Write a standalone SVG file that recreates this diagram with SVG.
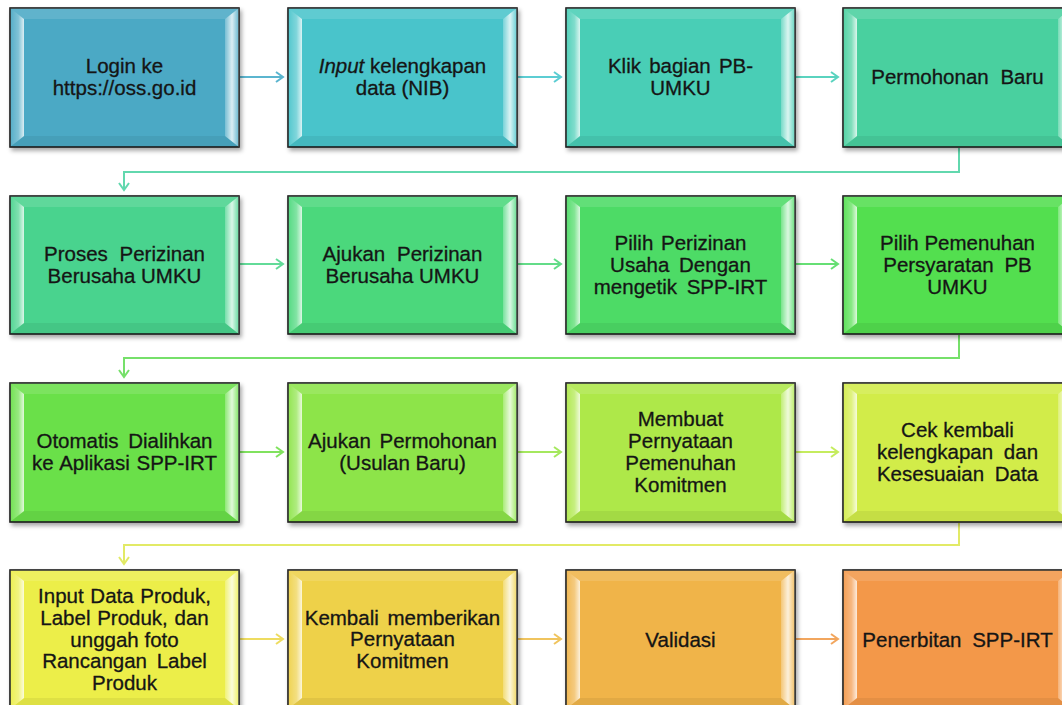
<svg xmlns="http://www.w3.org/2000/svg" width="1062" height="705" viewBox="0 0 1062 705">
<defs>
<style>
.box{stroke:#1c1c1c;stroke-width:1.6;filter:url(#sh)}
.bl{fill:url(#bevL)}
.br{fill:url(#bevR)}
.bt{fill:#ffffff;fill-opacity:0.12}
.bb{fill:#000000;fill-opacity:0.06}
.lbl{font-family:"Liberation Sans",Arial,sans-serif;font-size:20.5px;fill:#151515;stroke:#151515;stroke-width:0.3;text-anchor:middle}
.c{fill:none;stroke-width:2}
</style>
<filter id="sh" x="-10%" y="-10%" width="125%" height="130%">
<feDropShadow dx="2" dy="3" stdDeviation="2" flood-color="#000" flood-opacity="0.35"/>
</filter>
<linearGradient id="bevL" x1="0" y1="0" x2="1" y2="0">
<stop offset="0" stop-color="#fff" stop-opacity="0.05"/>
<stop offset="0.6" stop-color="#fff" stop-opacity="0.3"/>
<stop offset="1" stop-color="#fff" stop-opacity="0.8"/>
</linearGradient>
<linearGradient id="bevR" x1="0" y1="0" x2="1" y2="0">
<stop offset="0" stop-color="#fff" stop-opacity="0.25"/>
<stop offset="0.5" stop-color="#fff" stop-opacity="0.8"/>
<stop offset="1" stop-color="#fff" stop-opacity="0.15"/>
</linearGradient>
<marker id="m1" viewBox="0 0 10 12" refX="8" refY="6" markerWidth="10" markerHeight="12" markerUnits="userSpaceOnUse" orient="auto"><path d="M1,1 L8,6 L1,11" fill="none" stroke="#5BB5CF" stroke-width="2"/></marker>
<marker id="m2" viewBox="0 0 10 12" refX="8" refY="6" markerWidth="10" markerHeight="12" markerUnits="userSpaceOnUse" orient="auto"><path d="M1,1 L8,6 L1,11" fill="none" stroke="#5CCDD3" stroke-width="2"/></marker>
<marker id="m3" viewBox="0 0 10 12" refX="8" refY="6" markerWidth="10" markerHeight="12" markerUnits="userSpaceOnUse" orient="auto"><path d="M1,1 L8,6 L1,11" fill="none" stroke="#5AD3BF" stroke-width="2"/></marker>
<marker id="e1" viewBox="0 0 10 12" refX="8" refY="6" markerWidth="10" markerHeight="12" markerUnits="userSpaceOnUse" orient="auto"><path d="M1,1 L8,6 L1,11" fill="none" stroke="#62D8AE" stroke-width="2"/></marker>
<marker id="m4" viewBox="0 0 10 12" refX="8" refY="6" markerWidth="10" markerHeight="12" markerUnits="userSpaceOnUse" orient="auto"><path d="M1,1 L8,6 L1,11" fill="none" stroke="#62DB98" stroke-width="2"/></marker>
<marker id="m5" viewBox="0 0 10 12" refX="8" refY="6" markerWidth="10" markerHeight="12" markerUnits="userSpaceOnUse" orient="auto"><path d="M1,1 L8,6 L1,11" fill="none" stroke="#63DC88" stroke-width="2"/></marker>
<marker id="m6" viewBox="0 0 10 12" refX="8" refY="6" markerWidth="10" markerHeight="12" markerUnits="userSpaceOnUse" orient="auto"><path d="M1,1 L8,6 L1,11" fill="none" stroke="#66DF74" stroke-width="2"/></marker>
<marker id="e2" viewBox="0 0 10 12" refX="8" refY="6" markerWidth="10" markerHeight="12" markerUnits="userSpaceOnUse" orient="auto"><path d="M1,1 L8,6 L1,11" fill="none" stroke="#76E06A" stroke-width="2"/></marker>
<marker id="m7" viewBox="0 0 10 12" refX="8" refY="6" markerWidth="10" markerHeight="12" markerUnits="userSpaceOnUse" orient="auto"><path d="M1,1 L8,6 L1,11" fill="none" stroke="#80E25E" stroke-width="2"/></marker>
<marker id="m8" viewBox="0 0 10 12" refX="8" refY="6" markerWidth="10" markerHeight="12" markerUnits="userSpaceOnUse" orient="auto"><path d="M1,1 L8,6 L1,11" fill="none" stroke="#A5E85E" stroke-width="2"/></marker>
<marker id="m9" viewBox="0 0 10 12" refX="8" refY="6" markerWidth="10" markerHeight="12" markerUnits="userSpaceOnUse" orient="auto"><path d="M1,1 L8,6 L1,11" fill="none" stroke="#C5EC5E" stroke-width="2"/></marker>
<marker id="e3" viewBox="0 0 10 12" refX="8" refY="6" markerWidth="10" markerHeight="12" markerUnits="userSpaceOnUse" orient="auto"><path d="M1,1 L8,6 L1,11" fill="none" stroke="#E2EA66" stroke-width="2"/></marker>
<marker id="m10" viewBox="0 0 10 12" refX="8" refY="6" markerWidth="10" markerHeight="12" markerUnits="userSpaceOnUse" orient="auto"><path d="M1,1 L8,6 L1,11" fill="none" stroke="#EEDC60" stroke-width="2"/></marker>
<marker id="m11" viewBox="0 0 10 12" refX="8" refY="6" markerWidth="10" markerHeight="12" markerUnits="userSpaceOnUse" orient="auto"><path d="M1,1 L8,6 L1,11" fill="none" stroke="#F0C45E" stroke-width="2"/></marker>
<marker id="m12" viewBox="0 0 10 12" refX="8" refY="6" markerWidth="10" markerHeight="12" markerUnits="userSpaceOnUse" orient="auto"><path d="M1,1 L8,6 L1,11" fill="none" stroke="#F2A65E" stroke-width="2"/></marker>
</defs>
<rect width="1062" height="705" fill="#ffffff"/>

<g id="connectors">
<path class="c" d="M240,77 H283" stroke="#5BB5CF" marker-end="url(#m1)"/>
<path class="c" d="M518,77 H561" stroke="#5CCDD3" marker-end="url(#m2)"/>
<path class="c" d="M796,77 H838" stroke="#5AD3BF" marker-end="url(#m3)"/>
<path class="c" d="M959,148 V172 H124 V190" stroke="#62D8AE" marker-end="url(#e1)"/>
<path class="c" d="M240,264 H283" stroke="#62DB98" marker-end="url(#m4)"/>
<path class="c" d="M518,264 H561" stroke="#63DC88" marker-end="url(#m5)"/>
<path class="c" d="M796,264 H838" stroke="#66DF74" marker-end="url(#m6)"/>
<path class="c" d="M959,335 V358 H124 V377" stroke="#76E06A" marker-end="url(#e2)"/>
<path class="c" d="M240,452 H283" stroke="#80E25E" marker-end="url(#m7)"/>
<path class="c" d="M518,452 H561" stroke="#A5E85E" marker-end="url(#m8)"/>
<path class="c" d="M796,452 H838" stroke="#C5EC5E" marker-end="url(#m9)"/>
<path class="c" d="M959,523 V545 H124 V564" stroke="#E2EA66" marker-end="url(#e3)"/>
<path class="c" d="M240,639 H283" stroke="#EEDC60" marker-end="url(#m10)"/>
<path class="c" d="M518,639 H561" stroke="#F0C45E" marker-end="url(#m11)"/>
<path class="c" d="M796,639 H838" stroke="#F2A65E" marker-end="url(#m12)"/>
</g>

<g id="n1">
<rect class="box" x="10" y="8" width="229" height="139" fill="#4BA9C5"/>
<polygon class="bt" points="10,8 239,8 225,19 24,19"/>
<polygon class="bb" points="10,147 239,147 225,136 24,136"/>
<polygon class="bl" points="10,8 24,19 24,136 10,147"/>
<polygon class="br" points="239,8 225,19 225,136 239,147"/>
<text class="lbl"><tspan x="124.5" y="73">Login ke</tspan><tspan x="124.5" y="95">https://oss.go.id</tspan></text>
</g>
<g id="n2">
<rect class="box" x="288" y="8" width="229" height="139" fill="#48C4CB"/>
<polygon class="bt" points="288,8 517,8 503,19 302,19"/>
<polygon class="bb" points="288,147 517,147 503,136 302,136"/>
<polygon class="bl" points="288,8 302,19 302,136 288,147"/>
<polygon class="br" points="517,8 503,19 503,136 517,147"/>
<text class="lbl"><tspan x="402.5" y="73"><tspan font-style="italic">Input</tspan> kelengkapan</tspan><tspan x="402.5" y="95">data (NIB)</tspan></text>
</g>
<g id="n3">
<rect class="box" x="566" y="8" width="229" height="139" fill="#48CEB6"/>
<polygon class="bt" points="566,8 795,8 781,19 580,19"/>
<polygon class="bb" points="566,147 795,147 781,136 580,136"/>
<polygon class="bl" points="566,8 580,19 580,136 566,147"/>
<polygon class="br" points="795,8 781,19 781,136 795,147"/>
<text class="lbl"><tspan x="680.5" y="73" word-spacing="2.5">Klik bagian PB-</tspan><tspan x="680.5" y="95">UMKU</tspan></text>
</g>
<g id="n4">
<rect class="box" x="843" y="8" width="229" height="139" fill="#4AD09F"/>
<polygon class="bt" points="843,8 1072,8 1058,19 857,19"/>
<polygon class="bb" points="843,147 1072,147 1058,136 857,136"/>
<polygon class="bl" points="843,8 857,19 857,136 843,147"/>
<polygon class="br" points="1072,8 1058,19 1058,136 1072,147"/>
<text class="lbl"><tspan x="957.5" y="84" word-spacing="6">Permohonan Baru</tspan></text>
</g>

<g id="n5">
<rect class="box" x="10" y="196" width="229" height="138" fill="#49D38E"/>
<polygon class="bt" points="10,196 239,196 225,207 24,207"/>
<polygon class="bb" points="10,334 239,334 225,323 24,323"/>
<polygon class="bl" points="10,196 24,207 24,323 10,334"/>
<polygon class="br" points="239,196 225,207 225,323 239,334"/>
<text class="lbl"><tspan x="124.5" y="261" word-spacing="6">Proses Perizinan</tspan><tspan x="124.5" y="283">Berusaha UMKU</tspan></text>
</g>
<g id="n6">
<rect class="box" x="288" y="196" width="229" height="138" fill="#4BD87C"/>
<polygon class="bt" points="288,196 517,196 503,207 302,207"/>
<polygon class="bb" points="288,334 517,334 503,323 302,323"/>
<polygon class="bl" points="288,196 302,207 302,323 288,334"/>
<polygon class="br" points="517,196 503,207 503,323 517,334"/>
<text class="lbl"><tspan x="402.5" y="261" word-spacing="6">Ajukan Perizinan</tspan><tspan x="402.5" y="283">Berusaha UMKU</tspan></text>
</g>
<g id="n7">
<rect class="box" x="566" y="196" width="229" height="138" fill="#4DDB66"/>
<polygon class="bt" points="566,196 795,196 781,207 580,207"/>
<polygon class="bb" points="566,334 795,334 781,323 580,323"/>
<polygon class="bl" points="566,196 580,207 580,323 566,334"/>
<polygon class="br" points="795,196 781,207 781,323 795,334"/>
<text class="lbl"><tspan x="680.5" y="250" word-spacing="2">Pilih Perizinan</tspan><tspan x="680.5" y="272" word-spacing="4">Usaha Dengan</tspan><tspan x="680.5" y="294" word-spacing="4">mengetik SPP-IRT</tspan></text>
</g>
<g id="n8">
<rect class="box" x="843" y="196" width="229" height="138" fill="#52DF4F"/>
<polygon class="bt" points="843,196 1072,196 1058,207 857,207"/>
<polygon class="bb" points="843,334 1072,334 1058,323 857,323"/>
<polygon class="bl" points="843,196 857,207 857,323 843,334"/>
<polygon class="br" points="1072,196 1058,207 1058,323 1072,334"/>
<text class="lbl"><tspan x="957.5" y="250">Pilih Pemenuhan</tspan><tspan x="957.5" y="272" word-spacing="5">Persyaratan PB</tspan><tspan x="957.5" y="294">UMKU</tspan></text>
</g>

<g id="n9">
<rect class="box" x="10" y="383" width="229" height="139" fill="#6BE04A"/>
<polygon class="bt" points="10,383 239,383 225,394 24,394"/>
<polygon class="bb" points="10,522 239,522 225,511 24,511"/>
<polygon class="bl" points="10,383 24,394 24,511 10,522"/>
<polygon class="br" points="239,383 225,394 225,511 239,522"/>
<text class="lbl"><tspan x="124.5" y="448" word-spacing="4">Otomatis Dialihkan</tspan><tspan x="124.5" y="470" word-spacing="1">ke Aplikasi SPP-IRT</tspan></text>
</g>
<g id="n10">
<rect class="box" x="288" y="383" width="229" height="139" fill="#8DE44A"/>
<polygon class="bt" points="288,383 517,383 503,394 302,394"/>
<polygon class="bb" points="288,522 517,522 503,511 302,511"/>
<polygon class="bl" points="288,383 302,394 302,511 288,522"/>
<polygon class="br" points="517,383 503,394 503,511 517,522"/>
<text class="lbl"><tspan x="402.5" y="448" word-spacing="3">Ajukan Permohonan</tspan><tspan x="402.5" y="470">(Usulan Baru)</tspan></text>
</g>
<g id="n11">
<rect class="box" x="566" y="383" width="229" height="139" fill="#AEE84A"/>
<polygon class="bt" points="566,383 795,383 781,394 580,394"/>
<polygon class="bb" points="566,522 795,522 781,511 580,511"/>
<polygon class="bl" points="566,383 580,394 580,511 566,522"/>
<polygon class="br" points="795,383 781,394 781,511 795,522"/>
<text class="lbl"><tspan x="680.5" y="426">Membuat</tspan><tspan x="680.5" y="448">Pernyataan</tspan><tspan x="680.5" y="470">Pemenuhan</tspan><tspan x="680.5" y="492">Komitmen</tspan></text>
</g>
<g id="n12">
<rect class="box" x="843" y="383" width="229" height="139" fill="#D2EC4A"/>
<polygon class="bt" points="843,383 1072,383 1058,394 857,394"/>
<polygon class="bb" points="843,522 1072,522 1058,511 857,511"/>
<polygon class="bl" points="843,383 857,394 857,511 843,522"/>
<polygon class="br" points="1072,383 1058,394 1058,511 1072,522"/>
<text class="lbl"><tspan x="957.5" y="437">Cek kembali</tspan><tspan x="957.5" y="459" word-spacing="5">kelengkapan dan</tspan><tspan x="957.5" y="481" word-spacing="5">Kesesuaian Data</tspan></text>
</g>

<g id="n13">
<rect class="box" x="10" y="570" width="229" height="139" fill="#ECEE4A"/>
<polygon class="bt" points="10,570 239,570 225,581 24,581"/>
<polygon class="bb" points="10,709 239,709 225,698 24,698"/>
<polygon class="bl" points="10,570 24,581 24,698 10,709"/>
<polygon class="br" points="239,570 225,581 225,698 239,709"/>
<text class="lbl"><tspan x="124.5" y="603" word-spacing="1">Input Data Produk,</tspan><tspan x="124.5" y="625" word-spacing="1">Label Produk, dan</tspan><tspan x="124.5" y="646.5">unggah foto</tspan><tspan x="124.5" y="668" word-spacing="4">Rancangan Label</tspan><tspan x="124.5" y="690">Produk</tspan></text>
</g>
<g id="n14">
<rect class="box" x="288" y="570" width="229" height="139" fill="#EED14A"/>
<polygon class="bt" points="288,570 517,570 503,581 302,581"/>
<polygon class="bb" points="288,709 517,709 503,698 302,698"/>
<polygon class="bl" points="288,570 302,581 302,698 288,709"/>
<polygon class="br" points="517,570 503,581 503,698 517,709"/>
<text class="lbl"><tspan x="402.5" y="624.5" word-spacing="3">Kembali memberikan</tspan><tspan x="402.5" y="646">Pernyataan</tspan><tspan x="402.5" y="668">Komitmen</tspan></text>
</g>
<g id="n15">
<rect class="box" x="566" y="570" width="229" height="139" fill="#F0B448"/>
<polygon class="bt" points="566,570 795,570 781,581 580,581"/>
<polygon class="bb" points="566,709 795,709 781,698 580,698"/>
<polygon class="bl" points="566,570 580,581 580,698 566,709"/>
<polygon class="br" points="795,570 781,581 781,698 795,709"/>
<text class="lbl"><tspan x="680.5" y="646.5">Validasi</tspan></text>
</g>
<g id="n16">
<rect class="box" x="843" y="570" width="229" height="139" fill="#F39848"/>
<polygon class="bt" points="843,570 1072,570 1058,581 857,581"/>
<polygon class="bb" points="843,709 1072,709 1058,698 857,698"/>
<polygon class="bl" points="843,570 857,581 857,698 843,709"/>
<polygon class="br" points="1072,570 1058,581 1058,698 1072,709"/>
<text class="lbl"><tspan x="957.5" y="646.5" word-spacing="5">Penerbitan SPP-IRT</tspan></text>
</g>
</svg>
